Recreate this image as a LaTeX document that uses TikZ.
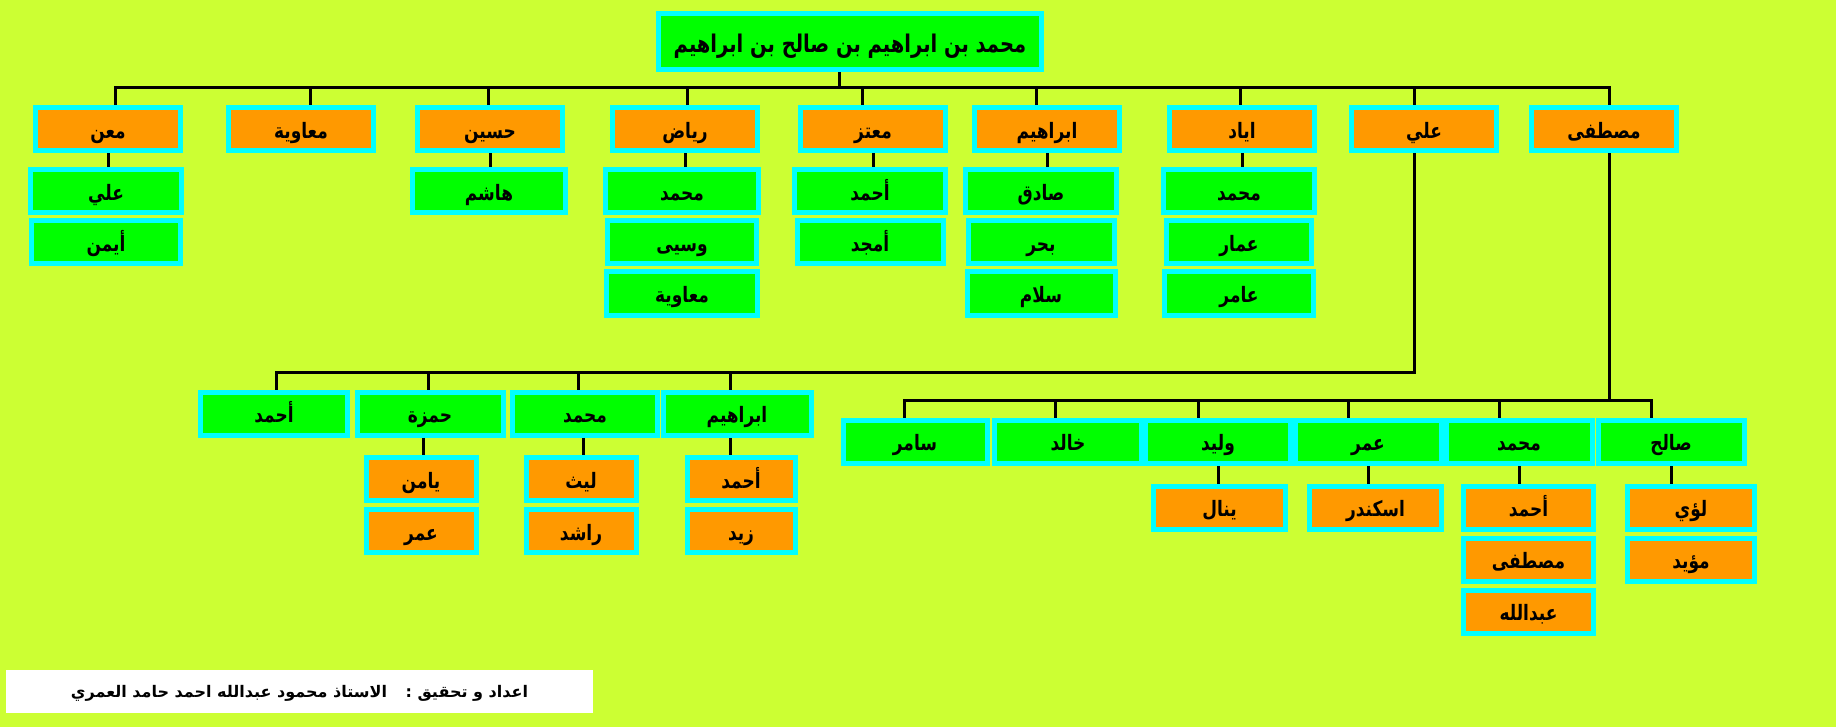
\documentclass[tikz,border=0pt]{standalone}
\usepackage{fontspec}
\usepackage{graphicx}
\usepackage{tikz}
\usetikzlibrary{positioning,backgrounds}
\TeXXeTstate=1
\newfontfamily\arabicfont[Script=Arabic]{DejaVu Sans}
\definecolor{bgyellow}{RGB}{204,255,51}
\definecolor{boxorange}{RGB}{255,153,0}
\definecolor{boxgreen}{RGB}{0,255,0}
\definecolor{boxcyan}{RGB}{0,255,255}
\newcommand{\artxt}[1]{\raisebox{0pt}[1.1em][0em]{\scalebox{1}[1.25]{\arabicfont\bfseries\beginR #1\endR}}}
\tikzset{
  person/.style={draw=boxcyan, line width=5pt, inner sep=0pt, minimum height=43pt, font=\fontsize{17}{20}\selectfont},
  orangebox/.style={person, fill=boxorange, minimum width=145pt},
  greenbox/.style={person, fill=boxgreen, minimum width=145pt},
  link/.style={line width=3pt, black},
}

\begin{document}
\begin{tikzpicture}[x=1pt, y=-1pt]
\useasboundingbox (0,0) rectangle (1836,727);

% root
\node[greenbox, minimum width=383pt, minimum height=56pt, font=\fontsize{19.5}{23}\selectfont] (root) at (850,41.5) {\artxt{محمد بن ابراهيم بن صالح بن ابراهيم}};

% first generation
\node[orangebox] (maan) at (108,129) {\artxt{معن}};
\node[orangebox] (muawiya) at (301,129) {\artxt{معاوية}};
\node[orangebox] (husain) at (490,129) {\artxt{حسين}};
\node[orangebox] (riyad) at (685,129) {\artxt{رياض}};
\node[orangebox] (mutaz) at (873,129) {\artxt{معتز}};
\node[orangebox] (ibrahim) at (1047,129) {\artxt{ابراهيم}};
\node[orangebox] (iyad) at (1242,129) {\artxt{اياد}};
\node[orangebox] (ali) at (1424,129) {\artxt{علي}};
\node[orangebox] (mustafa) at (1604,129) {\artxt{مصطفى}};

% their children
\node[greenbox, minimum width=151pt] (maan1) at (106,191.5) {\artxt{علي}};
\node[greenbox, minimum width=149pt, below=3pt of maan1] (maan2) {\artxt{أيمن}};
\node[greenbox, minimum width=153pt] (husain1) at (489,191.5) {\artxt{هاشم}};
\node[greenbox, minimum width=153pt] (riyad1) at (682,191.5) {\artxt{محمد}};
\node[greenbox, minimum width=149pt, below=3pt of riyad1] (riyad2) {\artxt{وسيى}};
\node[greenbox, minimum width=151pt, below=3pt of riyad2] (riyad3) {\artxt{معاوية}};
\node[greenbox, minimum width=151pt] (mutaz1) at (870,191.5) {\artxt{أحمد}};
\node[greenbox, minimum width=146pt, below=3pt of mutaz1] (mutaz2) {\artxt{أمجد}};
\node[greenbox, minimum width=151pt] (ibrahim1) at (1041,191.5) {\artxt{صادق}};
\node[greenbox, minimum width=146pt, below=3pt of ibrahim1] (ibrahim2) {\artxt{بحر}};
\node[greenbox, minimum width=148pt, below=3pt of ibrahim2] (ibrahim3) {\artxt{سلام}};
\node[greenbox, minimum width=151pt] (iyad1) at (1239,191.5) {\artxt{محمد}};
\node[greenbox, minimum width=145pt, below=3pt of iyad1] (iyad2) {\artxt{عمار}};
\node[greenbox, minimum width=149pt, below=3pt of iyad2] (iyad3) {\artxt{عامر}};

% children of ali
\node[greenbox, minimum width=147pt] (aliA) at (274,413.5) {\artxt{أحمد}};
\node[greenbox, minimum width=146pt] (aliH) at (430,413.5) {\artxt{حمزة}};
\node[greenbox, minimum width=145pt] (aliM) at (585,413.5) {\artxt{محمد}};
\node[greenbox, minimum width=148pt] (aliI) at (737,413.5) {\artxt{ابراهيم}};
\node[orangebox, minimum width=110pt] (aliH1) at (421,479) {\artxt{يامن}};
\node[orangebox, minimum width=110pt, below=4pt of aliH1] (aliH2) {\artxt{عمر}};
\node[orangebox, minimum width=110pt] (aliM1) at (581,479) {\artxt{ليث}};
\node[orangebox, minimum width=110pt, below=4pt of aliM1] (aliM2) {\artxt{راشد}};
\node[orangebox, minimum width=108pt] (aliI1) at (741,479) {\artxt{أحمد}};
\node[orangebox, minimum width=108pt, below=4pt of aliI1] (aliI2) {\artxt{زيد}};

% children of mustafa
\node[greenbox, minimum width=144pt] (musS) at (915,441.5) {\artxt{سامر}};
\node[greenbox, minimum width=147pt] (musK) at (1068,441.5) {\artxt{خالد}};
\node[greenbox, minimum width=145pt] (musW) at (1218,441.5) {\artxt{وليد}};
\node[greenbox, minimum width=146pt] (musO) at (1368,441.5) {\artxt{عمر}};
\node[greenbox, minimum width=146pt] (musM) at (1519,441.5) {\artxt{محمد}};
\node[greenbox, minimum width=146pt] (musL) at (1671,441.5) {\artxt{صالح}};
\node[orangebox, minimum width=132pt] (musW1) at (1219.5,507.5) {\artxt{ينال}};
\node[orangebox, minimum width=132pt] (musO1) at (1375.5,507.5) {\artxt{اسكندر}};
\node[orangebox, minimum width=130pt] (musM1) at (1528.5,507.5) {\artxt{أحمد}};
\node[orangebox, minimum width=130pt, below=4pt of musM1] (musM2) {\artxt{مصطفى}};
\node[orangebox, minimum width=130pt, below=4pt of musM2] (musM3) {\artxt{عبدالله}};
\node[orangebox, minimum width=127pt] (musL1) at (1691,507.5) {\artxt{لؤي}};
\node[orangebox, minimum width=127pt, below=4pt of musL1] (musL2) {\artxt{مؤيد}};

% footer
\node[fill=white, minimum width=587pt, minimum height=43pt, inner sep=0pt, font=\fontsize{16}{19}\selectfont] (credit) at (299.5,691.5) {\raisebox{0pt}[0.8em][0em]{\arabicfont\bfseries\beginR اعداد و تحقيق :~~ الاستاذ محمود عبدالله احمد حامد العمري\endR}};

\coordinate (topbus) at (850,88);
\coordinate (alibus) at (800,372);
\coordinate (mbus) at (1300,400.5);

\begin{pgfonlayer}{background}
\fill[bgyellow] (0,0) rectangle (1836,727);
% top level
\draw[link] ([xshift=-11pt]root.south) -- ([xshift=-11pt]root.south |- topbus);
\draw[link] ([xshift=7pt]maan.north) |- (topbus) -| ([xshift=5pt]mustafa.north);
\foreach \n/\d in {muawiya/9,husain/-2,riyad/2,mutaz/-11,ibrahim/-11,iyad/-2,ali/-10}
  \draw[link] ([xshift=\d pt]\n.north) -- ([xshift=\d pt]\n.north |- topbus);
\foreach \p/\c in {maan/maan1,husain/husain1,riyad/riyad1,mutaz/mutaz1,ibrahim/ibrahim1,iyad/iyad1}
  \draw[link] (\p.south) -- (\p.south |- \c.north);
% ali
\draw[link] ([xshift=2pt]aliA.north) |- (alibus) -| ([xshift=-10pt]ali.south);
\foreach \n/\d in {aliH/-2,aliM/-7,aliI/-7}
  \draw[link] ([xshift=\d pt]\n.north) -- ([xshift=\d pt]\n.north |- alibus);
\foreach \p/\c/\d in {aliH/aliH1/-7,aliM/aliM1/-2,aliI/aliI1/-7}
  \draw[link] ([xshift=\d pt]\p.south) -- ([xshift=\d pt]\p.south |- \c.north);
% mustafa
\draw[link] ([xshift=5pt]mustafa.south) -- ([xshift=5pt]mustafa.south |- mbus);
\draw[link] ([xshift=-11pt]musS.north) |- (mbus) -| ([xshift=-20pt]musL.north);
\foreach \n/\d in {musK/-13,musW/-20,musO/-20,musM/-20}
  \draw[link] ([xshift=\d pt]\n.north) -- ([xshift=\d pt]\n.north |- mbus);
\foreach \p/\c in {musW/musW1,musO/musO1,musM/musM1,musL/musL1}
  \draw[link] (\p.south) -- (\p.south |- \c.north);
\end{pgfonlayer}
\end{tikzpicture}
\end{document}
